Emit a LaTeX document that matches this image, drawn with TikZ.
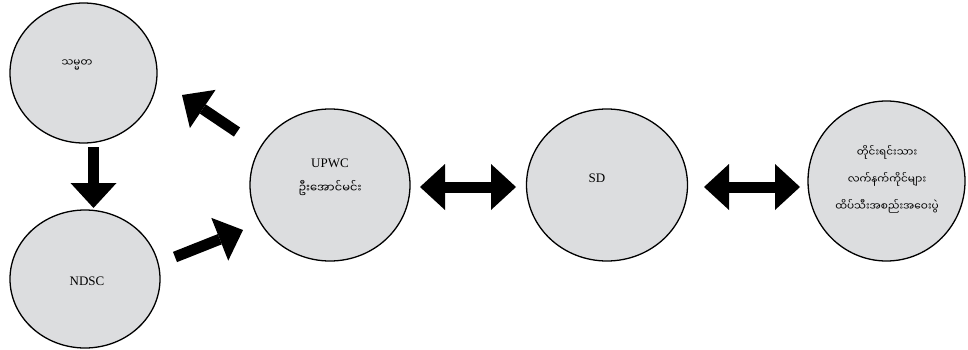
\documentclass[tikz,border=0pt]{standalone}
\usepackage{fontspec}
\setmainfont{Liberation Serif}
\newfontfamily\mya[Script=Myanmar]{Noto Sans Myanmar UI}
\usetikzlibrary{arrows.meta,shapes.geometric}
\definecolor{cfill}{HTML}{DCDDDF}
\tikzset{
  circ/.style={ellipse, draw=black, line width=1.3pt, fill=cfill, inner sep=0pt},
  lat/.style={font=\fontsize{13}{16}\selectfont, inner sep=1pt},
  blockarrow/.style={line width=11pt, draw=black, -{Triangle[length=25pt,width=46pt,line width=0pt]}},
  dblarrow/.style={line width=11pt, draw=black, {Triangle[length=25pt,width=46pt,line width=0pt]}-{Triangle[length=25pt,width=46pt,line width=0pt]}},
  txt/.style={font=\mya\fontsize{10.5}{27}\selectfont, inner sep=1pt, align=center}
}
\begin{document}
\begin{tikzpicture}[x=1pt,y=-1pt]
\useasboundingbox (0,0) rectangle (968,350);
\node[circ, minimum width=147pt, minimum height=140pt] (pres) at (83.5,73) {};
\node[txt] (tpres) at (77,65) {သမ္မတ};
\node[circ, minimum width=150pt, minimum height=138pt] (ndsc) at (85,279) {};
\node[lat] (tndsc) at (87,281) {NDSC};
\node[circ, minimum width=160pt, minimum height=152pt] (upwc) at (330,185) {};
\node[lat] (tupwc) at (330,163) {UPWC};
\node[txt, font=\mya\fontsize{11.5}{20}\selectfont] (tuaung) at (330,188) {ဦးအောင်မင်း};
\node[circ, minimum width=161pt, minimum height=152pt] (sd) at (607,185) {};
\node[lat] (tsd) at (597,178) {SD};
\node[circ, minimum width=157pt, minimum height=160pt] (eao) at (886.5,181) {};
\node[txt] (teao) at (887,179) {တိုင်းရင်းသား\\လက်နက်ကိုင်များ\\ထိပ်သီးအစည်းအဝေးပွဲ};
\coordinate (a1s) at (93.5,147); \coordinate (a1e) at (93.5,208);
\coordinate (a2s) at (175,257); \coordinate (a2e) at (243,230);
\coordinate (a3s) at (237,132); \coordinate (a3e) at (182,95);
\coordinate (d1s) at (420,187); \coordinate (d1e) at (516,187);
\coordinate (d2s) at (704,187); \coordinate (d2e) at (800,187);
\draw[blockarrow] (a1s) -- (a1e);
\draw[blockarrow] (a2s) -- (a2e);
\draw[blockarrow] (a3s) -- (a3e);
\draw[dblarrow] (d1s) -- (d1e);
\draw[dblarrow] (d2s) -- (d2e);
\end{tikzpicture}
\end{document}
